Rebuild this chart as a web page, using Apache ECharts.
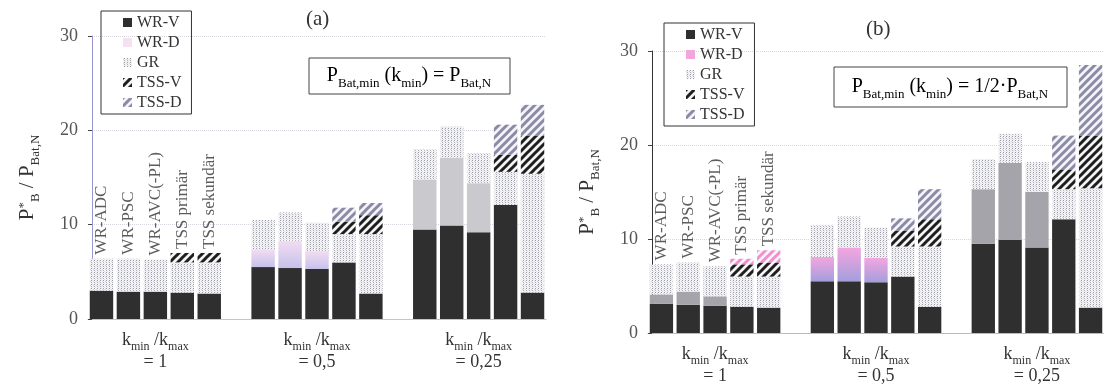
<!DOCTYPE html>
<html><head><meta charset="utf-8">
<script src="https://cdn.jsdelivr.net/npm/echarts@6/dist/echarts.min.js"></script>
<style>html,body{margin:0;padding:0;background:#fff}#c{width:1104px;height:387px}</style>
</head><body><div id="c"></div>
<script>
// ---------- data ----------
const barNames = ['WR-ADC', 'WR-PSC', 'WR-AVC(-PL)', 'TSS primär', 'TSS sekundär'];
const groupLabels = ['1', '0,5', '0,25'];
const seriesNames = ['WR-V', 'WR-D', 'GR', 'TSS-V', 'TSS-D'];
const yTicks = [0, 10, 20, 30];
const panelTitles = ['(a)', '(b)'];

// panel (a): P_Bat,min(k_min) = P_Bat,N   (5 bars x 3 groups)
const aWRV  = [3.0, 2.9, 2.9, 2.8, 2.7,  5.5, 5.4, 5.3, 6.0, 2.7,  9.5, 9.9, 9.2, 12.1, 2.8];
const aWRD  = [0,   0,   0,   0,   0,    1.9, 2.9, 1.9, 0,   0,    5.3, 7.2, 5.2, 0,    0];
const aGR   = [3.4, 3.5, 3.4, 3.2, 3.3,  3.1, 3.0, 3.0, 3.0, 6.3,  3.2, 3.3, 3.2, 3.5, 12.6];
const aTSSV = [0,   0,   0,   1.0, 1.0,  0,   0,   0,   1.3, 2.0,  0,   0,   0,   1.8,  4.0];
const aTSSD = [0,   0,   0,   0,   0,    0,   0,   0,   1.5, 1.3,  0,   0,   0,   3.2,  3.3];

// panel (b): P_Bat,min(k_min) = 1/2 P_Bat,N
const bWRV  = [3.1, 3.0, 2.9, 2.8, 2.7,  5.5, 5.5, 5.4, 6.0, 2.8,  9.5, 9.9, 9.1, 12.1, 2.7];
const bWRD  = [1.0, 1.4, 1.0, 0,   0,    2.6, 3.6, 2.6, 0,   0,    5.8, 8.2, 5.9, 0,    0];
const bGR   = [3.2, 3.1, 3.2, 3.2, 3.3,  3.4, 3.3, 3.2, 3.2, 6.4,  3.2, 3.1, 3.2, 3.2, 12.7];
const bTSSV = [0,   0,   0,   1.3, 1.5,  0,   0,   0,   1.7, 2.9,  0,   0,   0,   2.1,  5.6];
const bTSSD = [0,   0,   0,   0.6, 1.3,  0,   0,   0,   1.3, 3.2,  0,   0,   0,   3.6,  7.5];

const panelData = [[aWRV, aWRD, aGR, aTSSV, aTSSD], [bWRV, bWRD, bGR, bTSSV, bTSSD]];

// ---------- styles ----------
const SERIF = 'Liberation Serif';
function mkCanvas(w, h, draw) { const c = document.createElement('canvas'); c.width = w; c.height = h; draw(c.getContext('2d')); return c; }
function hatch(fg, bg, s, lw) {
  return { image: mkCanvas(s, s, ctx => {
    ctx.fillStyle = bg; ctx.fillRect(0, 0, s, s);
    ctx.strokeStyle = fg; ctx.lineWidth = lw; ctx.beginPath();
    ctx.moveTo(-s, 2 * s); ctx.lineTo(2 * s, -s);
    ctx.moveTo(-s, s); ctx.lineTo(s, -s);
    ctx.moveTo(0, 2 * s); ctx.lineTo(2 * s, 0);
    ctx.stroke();
  }), repeat: 'repeat' };
}
function dots() {
  return { image: mkCanvas(3, 4, ctx => {
    ctx.fillStyle = '#f4f4f6'; ctx.fillRect(0, 0, 3, 4);
    ctx.fillStyle = '#9a9aa4'; ctx.fillRect(1, 0, 1, 1);
    ctx.fillStyle = '#acacb8'; ctx.fillRect(1, 2, 1, 1);
    ctx.fillStyle = '#d4d4dc'; ctx.fillRect(0, 1, 1, 1);
    ctx.fillStyle = '#e2e2e8'; ctx.fillRect(2, 3, 1, 1);
  }), repeat: 'repeat' };
}
function grad(top, bottom) {
  return new echarts.graphic.LinearGradient(0, 0, 0, 1, [{ offset: 0, color: top }, { offset: 1, color: bottom }]);
}
const P_WRV = '#2f2f2f';
const P_GR = dots();
const P_TSSV = hatch('#1e1e1e', '#f4f4f4', 8, 3);
const P_TSSD = hatch('#8a8aa6', '#f4f4f8', 8, 3);
const P_TSSD_pink = hatch('#ef8fd2', '#fbf3f8', 8, 3);

function colorFor(p, s, g) {
  if (s === 0) return P_WRV;
  if (s === 1) {
    if (p === 0) return g === 1 ? grad('#f3dcf2', '#c6c2ea') : '#c9c9ce';
    if (g === 1) return grad('#f4a6e0', '#a49edc');
    return '#a4a4aa';
  }
  if (s === 2) return P_GR;
  if (s === 3) return P_TSSV;
  if (p === 1 && g === 0) return P_TSSD_pink;
  return P_TSSD;
}
function legendColor(p, s) {
  if (s === 0) return P_WRV;
  if (s === 1) return p === 0 ? '#f4e2f1' : '#f2a6dc';
  if (s === 2) return P_GR;
  if (s === 3) return P_TSSV;
  return P_TSSD;
}

// ---------- layout ----------
const grids = [
  { left: 88, top: 36, width: 458, height: 283 },
  { left: 648, top: 51, width: 460, height: 282 }
];

function toSlots(arr) {
  const out = [];
  for (let g = 0; g < 3; g++) {
    for (let i = 0; i < 5; i++) out.push(arr[g * 5 + i]);
    if (g < 2) out.push(null);
  }
  return out;
}
const categories = [];
for (let g = 0; g < 3; g++) {
  for (let i = 0; i < 5; i++) categories.push(barNames[i] + ' | ' + groupLabels[g]);
  if (g < 2) categories.push('gap' + g);
}

const rich = {
  k: { fontFamily: SERIF, fontSize: 18, color: '#333', lineHeight: 21, verticalAlign: 'top' },
  sub: { fontFamily: SERIF, fontSize: 12, color: '#333', lineHeight: 12, padding: [10, 0, 0, 0], verticalAlign: 'top' },
  eq: { fontFamily: SERIF, fontSize: 18, color: '#333', lineHeight: 20 }
};

const xAxes = [], yAxes = [], series = [];
for (let p = 0; p < 2; p++) {
  xAxes.push({
    type: 'category', gridIndex: p, data: categories,
    axisLine: { lineStyle: { color: p === 0 ? '#c4c4cc' : '#b8b8d8', width: 1 } },
    axisTick: { show: false },
    axisLabel: {
      interval: 0, margin: 12,
      formatter: (v, idx) => idx % 6 === 2 ? '{k|k}{sub|min}{k| /k}{sub|max}\n{eq|= ' + groupLabels[Math.floor(idx / 6)] + '}' : '',
      rich: rich
    }
  });
  yAxes.push({
    type: 'value', gridIndex: p, min: yTicks[0], max: yTicks[yTicks.length - 1], interval: 10, offset: -4,
    axisLine: { show: true, lineStyle: { color: p === 0 ? '#9a96d4' : '#333', width: 1 } },
    axisTick: { show: true, length: 4, lineStyle: { color: '#444' } },
    axisLabel: { fontFamily: SERIF, fontSize: 18, color: '#555', margin: 14 },
    splitLine: { show: true, lineStyle: { type: 'dotted', color: '#d6d6de' } },
    name: '{P|P}{sup|*}{sub|B}{P| / P}{sub|Bat,N}',
    nameLocation: 'middle', nameRotate: 90, nameGap: 52,
    nameTextStyle: {
      rich: {
        P: { fontFamily: SERIF, fontSize: 21, color: '#333', lineHeight: 23, verticalAlign: 'top' },
        sup: { fontFamily: SERIF, fontSize: 13, color: '#333', lineHeight: 13, verticalAlign: 'top' },
        sub: { fontFamily: SERIF, fontSize: 13, color: '#333', lineHeight: 13, padding: [12, 0, 0, 0], verticalAlign: 'top' }
      }
    }
  });
  panelData[p].forEach((arr, s) => {
    series.push({
      type: 'bar', name: seriesNames[s], stack: 'p' + p,
      xAxisIndex: p, yAxisIndex: p, barCategoryGap: '13%',
      itemStyle: { color: colorFor(p, s, 0) },
      data: toSlots(arr).map((v, k) => v == null ? null : { value: v, itemStyle: { color: colorFor(p, s, Math.floor(k / 6)) } })
    });
  });
  // vertical bar-name labels above the first group
  const tops = barNames.map((n, i) => [i, panelData[p].reduce((acc, arr) => acc + arr[i], 0)]);
  series.push({
    type: 'scatter', xAxisIndex: p, yAxisIndex: p, symbolSize: 0, silent: true,
    data: tops,
    label: {
      show: true, position: 'top', distance: 4, rotate: 90, align: 'left', verticalAlign: 'middle',
      fontFamily: SERIF, fontSize: 17, color: '#333',
      formatter: prm => barNames[prm.dataIndex]
    }
  });
}

const legends = [0, 1].map(p => ({
  orient: 'vertical', left: p === 0 ? 101 : 664, top: p === 0 ? 11 : 23,
  selectedMode: false, icon: 'rect', itemWidth: 9, itemHeight: 9, itemGap: 3,
  borderColor: '#333', borderWidth: 1, padding: [3, 10, 3, 22],
  textStyle: { fontFamily: SERIF, fontSize: 16, color: '#333', lineHeight: 17 },
  data: seriesNames.map((n, s) => ({ name: n, itemStyle: { color: legendColor(p, s), borderWidth: 0 } }))
}));

const fRich = {
  P: { fontFamily: SERIF, fontSize: 20, color: '#333', lineHeight: 22, verticalAlign: 'top' },
  s: { fontFamily: SERIF, fontSize: 13, color: '#333', lineHeight: 13, padding: [11, 0, 0, 0], verticalAlign: 'top' }
};
const graphic = [
  { type: 'text', left: 306, top: 9, style: { text: panelTitles[0], fontFamily: SERIF, fontSize: 21, fill: '#333' } },
  { type: 'text', left: 866, top: 19, style: { text: panelTitles[1], fontFamily: SERIF, fontSize: 21, fill: '#333' } },
  { type: 'rect', shape: { x: 309, y: 58, width: 201, height: 36 }, style: { fill: '#fff', stroke: '#444', lineWidth: 1 } },
  { type: 'text', x: 409, y: 77, style: { text: '{P|P}{s|Bat,min}{P| (k}{s|min}{P|) = P}{s|Bat,N}', rich: fRich, align: 'center', verticalAlign: 'middle' } },
  { type: 'rect', shape: { x: 834, y: 67, width: 233, height: 40 }, style: { fill: '#fff', stroke: '#444', lineWidth: 1 } },
  { type: 'text', x: 950, y: 88, style: { text: '{P|P}{s|Bat,min}{P| (k}{s|min}{P|) = 1/2·P}{s|Bat,N}', rich: fRich, align: 'center', verticalAlign: 'middle' } }
];

const chart = echarts.init(document.getElementById('c'), null, { renderer: 'canvas' });
chart.setOption({
  animation: false, backgroundColor: '#fff',
  grid: grids, xAxis: xAxes, yAxis: yAxes, series: series, legend: legends, graphic: graphic
});
</script></body></html>
